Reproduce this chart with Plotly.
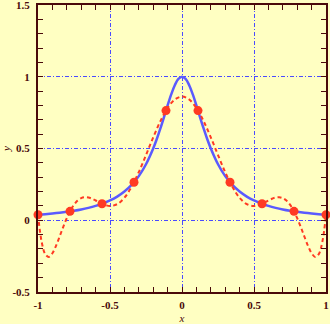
import plotly.graph_objects as go

# Runge function f(x) (blue, solid)
x_f = [-1.0, -0.95, -0.9, -0.85, -0.8, -0.75, -0.7, -0.65, -0.6, -0.55, -0.5, -0.45, -0.4, -0.35,
       -0.3, -0.25, -0.2, -0.175, -0.15, -0.125, -0.1, -0.075, -0.05, -0.025, 0.0,
       0.025, 0.05, 0.075, 0.1, 0.125, 0.15, 0.175, 0.2, 0.25, 0.3, 0.35, 0.4, 0.45, 0.5,
       0.55, 0.6, 0.65, 0.7, 0.75, 0.8, 0.85, 0.9, 0.95, 1.0]
y_f = [0.0385, 0.0424, 0.0471, 0.0525, 0.0588, 0.0664, 0.0755, 0.0865, 0.1, 0.1168, 0.1379, 0.1649,
       0.2, 0.2462, 0.3077, 0.3902, 0.5, 0.5664, 0.64, 0.7191, 0.8, 0.8767, 0.9412, 0.9846, 1.0,
       0.9846, 0.9412, 0.8767, 0.8, 0.7191, 0.64, 0.5664, 0.5, 0.3902, 0.3077, 0.2462, 0.2, 0.1649,
       0.1379, 0.1168, 0.1, 0.0865, 0.0755, 0.0664, 0.0588, 0.0525, 0.0471, 0.0424, 0.0385]

# Interpolating polynomial (red, dashed)
x_p = [-1.0, -0.975, -0.95, -0.925, -0.9, -0.875, -0.85, -0.825, -0.8, -0.775, -0.75, -0.725,
       -0.7, -0.675, -0.65, -0.625, -0.6, -0.55, -0.5, -0.45, -0.4, -0.35, -0.3, -0.25, -0.2,
       -0.15, -0.1, -0.05, 0.0, 0.05, 0.1, 0.15, 0.2, 0.25, 0.3, 0.35, 0.4, 0.45, 0.5, 0.55,
       0.6, 0.625, 0.65, 0.675, 0.7, 0.725, 0.75, 0.775, 0.8, 0.825, 0.85, 0.875, 0.9, 0.925,
       0.95, 0.975, 1.0]
y_p = [0.0385, -0.1481, -0.2360, -0.2554, -0.2300, -0.1781, -0.1138, -0.0472, 0.0147, 0.0673,
       0.1084, 0.1371, 0.1540, 0.1603, 0.1581, 0.1497, 0.1377, 0.1122, 0.0995, 0.1122, 0.1566,
       0.2330, 0.3356, 0.4546, 0.5775, 0.6907, 0.7820, 0.8411, 0.8615, 0.8411, 0.7820, 0.6907,
       0.5775, 0.4546, 0.3356, 0.2330, 0.1566, 0.1122, 0.0995, 0.1122, 0.1377, 0.1497, 0.1581,
       0.1603, 0.1540, 0.1371, 0.1084, 0.0673, 0.0147, -0.0472, -0.1138, -0.1781, -0.2300,
       -0.2554, -0.2360, -0.1481, 0.0385]

# Interpolation nodes
x_n = [-1.0, -0.7778, -0.5556, -0.3333, -0.1111, 0.1111, 0.3333, 0.5556, 0.7778, 1.0]
y_n = [0.0385, 0.0620, 0.1147, 0.2647, 0.7642, 0.7642, 0.2647, 0.1147, 0.0620, 0.0385]

x_ticks = [-1, -0.5, 0, 0.5, 1]
x_labels = ["-1", "-0.5", "0", "0.5", "1"]
y_ticks = [-0.5, 0, 0.5, 1, 1.5]
y_labels = ["-0.5", "0", "0.5", "1", "1.5"]

bg = "#FFFFC2"
axc = "#4A0A0A"
gridc = "#4A4AFF"
font = dict(family="Liberation Serif, Times New Roman, serif", size=11, color=axc, weight="bold")
tfont = dict(family="Liberation Serif, serif", size=11, color=axc)

fig = go.Figure()
fig.add_trace(go.Scatter(x=x_f, y=y_f, mode="lines", line=dict(color="#5A5AFF", width=2.5, shape="spline"),
                         showlegend=False, hoverinfo="skip"))
fig.add_trace(go.Scatter(x=x_p, y=y_p, mode="lines",
                         line=dict(color="#FF3A22", width=2, dash="4px,3px", shape="spline"),
                         showlegend=False, hoverinfo="skip"))
fig.add_trace(go.Scatter(x=x_n, y=y_n, mode="markers", marker=dict(color="#FF3A22", size=9),
                         cliponaxis=False, showlegend=False, hoverinfo="skip"))

axis_common = dict(
    showline=True, linecolor=axc, linewidth=2, mirror="ticks",
    ticks="inside", ticklen=5, tickcolor=axc, tickwidth=1,
    showgrid=True, gridcolor=gridc, gridwidth=1, griddash="4px,2px,1px,2px",
    zeroline=False, tickfont=font, automargin=False, ticklabeloverflow="allow",
    minor=dict(ticks="inside", ticklen=5, tickcolor=axc, tickwidth=1, dtick=0.1, tick0=0, showgrid=False),
)

fig.update_xaxes(range=[-1, 1], tickvals=x_ticks, ticktext=x_labels, ticklabelstandoff=2,
                 title=dict(text="<i>x</i>", font=tfont, standoff=6),
                 **axis_common)
fig.update_yaxes(range=[-0.5, 1.5], tickvals=y_ticks, ticktext=y_labels, ticklabelstandoff=4,
                 title=dict(text="<i>y</i>", font=tfont, standoff=6),
                 **axis_common)

fig.update_layout(width=330, height=324, paper_bgcolor=bg, plot_bgcolor=bg,
                  margin=dict(l=38, r=4, t=5, b=32), showlegend=False)

fig.write_html("out.html", config={"displayModeBar": False, "staticPlot": True},
               post_script="document.body.style.margin='0';document.body.style.overflow='hidden';")
